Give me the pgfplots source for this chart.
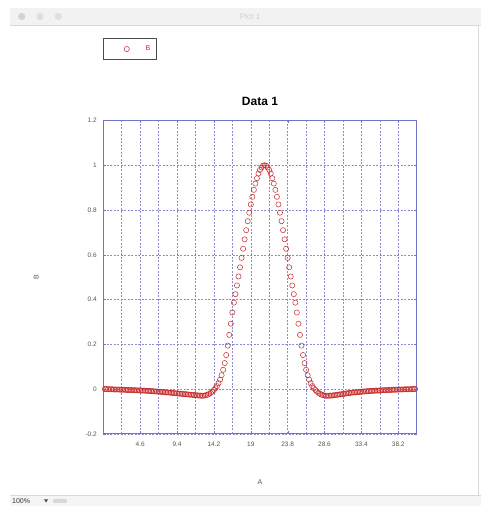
\documentclass[border=0pt]{standalone}
\usepackage{pgfplots}
\pgfplotsset{compat=1.18}
\usepackage{fontspec}
\setmainfont{Liberation Sans}
\definecolor{gridcol}{RGB}{140,140,210}
\definecolor{framecol}{RGB}{115,115,200}
\definecolor{markcol}{RGB}{200,40,40}
\definecolor{ticklab}{RGB}{85,85,85}
\begin{document}
\begin{tikzpicture}
% window frame (decoration)
\fill[white] (0pt,0pt) rectangle (481pt,506pt);
\fill[gray!10] (10pt,481pt) rectangle (481pt,498pt);
\draw[gray!30] (10pt,481pt) -- (481pt,481pt);
\fill[gray!35] (21.7pt,489.5pt) circle (3.6pt);
\fill[gray!25] (40pt,489.5pt) circle (3.6pt);
\fill[gray!25] (58.3pt,489.5pt) circle (3.6pt);
\node[text=gray!35,font=\fontsize{8}{9}\selectfont] at (250pt,489.5pt) {Plot 1};
\draw[gray!30] (478pt,11pt) -- (478pt,481pt);
\fill[gray!8] (10pt,0pt) rectangle (481pt,11pt);
\draw[gray!30] (10pt,11pt) -- (481pt,11pt);
\node[anchor=west,inner sep=0pt,text=black!80,font=\fontsize{7}{8}\selectfont] at (12pt,5pt) {100\%};
\fill[black!70] (44pt,6.5pt) -- (48pt,6.5pt) -- (46pt,3.5pt) -- cycle;
\fill[gray!30, rounded corners=1pt] (53pt,3pt) rectangle (67pt,7pt);
\pgfplotstableread{
x y
0.0 0.000
0.2 0.000
0.4 -0.001
0.6 -0.001
0.8 -0.001
1.0 -0.001
1.2 -0.002
1.4 -0.002
1.6 -0.002
1.8 -0.002
2.0 -0.003
2.2 -0.003
2.4 -0.003
2.6 -0.003
2.8 -0.004
3.0 -0.004
3.2 -0.004
3.4 -0.004
3.6 -0.005
3.8 -0.005
4.0 -0.005
4.2 -0.006
4.4 -0.006
4.6 -0.006
4.8 -0.007
5.0 -0.007
5.2 -0.007
5.4 -0.008
5.6 -0.008
5.8 -0.009
6.0 -0.009
6.2 -0.010
6.4 -0.010
6.6 -0.011
6.8 -0.011
7.0 -0.012
7.2 -0.012
7.4 -0.013
7.6 -0.013
7.8 -0.014
8.0 -0.015
8.2 -0.015
8.4 -0.016
8.6 -0.017
8.8 -0.017
9.0 -0.018
9.2 -0.019
9.4 -0.019
9.6 -0.020
9.8 -0.021
10.0 -0.021
10.2 -0.022
10.4 -0.023
10.6 -0.023
10.8 -0.024
11.0 -0.025
11.2 -0.025
11.4 -0.026
11.6 -0.027
11.8 -0.027
12.0 -0.028
12.2 -0.029
12.4 -0.029
12.6 -0.030
12.8 -0.030
13.0 -0.029
13.2 -0.027
13.4 -0.025
13.6 -0.021
13.8 -0.017
14.0 -0.011
14.2 -0.004
14.4 0.004
14.6 0.013
14.8 0.026
15.0 0.042
15.2 0.062
15.4 0.086
15.6 0.116
15.8 0.152
16.0 0.194
16.2 0.242
16.4 0.292
16.6 0.342
16.8 0.386
17.0 0.424
17.2 0.463
17.4 0.503
17.6 0.544
17.8 0.586
18.0 0.627
18.2 0.669
18.4 0.710
18.6 0.750
18.8 0.788
19.0 0.825
19.2 0.859
19.4 0.890
19.6 0.918
19.8 0.942
20.0 0.963
20.2 0.979
20.4 0.990
20.6 0.998
20.8 1.000
21.0 0.998
21.2 0.990
21.4 0.979
21.6 0.963
21.8 0.942
22.0 0.918
22.2 0.890
22.4 0.859
22.6 0.825
22.8 0.788
23.0 0.750
23.2 0.710
23.4 0.669
23.6 0.627
23.8 0.586
24.0 0.544
24.2 0.503
24.4 0.463
24.6 0.424
24.8 0.386
25.0 0.342
25.2 0.292
25.4 0.242
25.6 0.194
25.8 0.152
26.0 0.116
26.2 0.086
26.4 0.062
26.6 0.042
26.8 0.026
27.0 0.013
27.2 0.004
27.4 -0.004
27.6 -0.011
27.8 -0.017
28.0 -0.021
28.2 -0.025
28.4 -0.027
28.6 -0.029
28.8 -0.030
29.0 -0.030
29.2 -0.030
29.4 -0.029
29.6 -0.029
29.8 -0.028
30.0 -0.027
30.2 -0.026
30.4 -0.025
30.6 -0.024
30.8 -0.023
31.0 -0.022
31.2 -0.021
31.4 -0.020
31.6 -0.019
31.8 -0.018
32.0 -0.017
32.2 -0.016
32.4 -0.015
32.6 -0.015
32.8 -0.014
33.0 -0.013
33.2 -0.013
33.4 -0.012
33.6 -0.011
33.8 -0.011
34.0 -0.010
34.2 -0.010
34.4 -0.009
34.6 -0.009
34.8 -0.008
35.0 -0.008
35.2 -0.007
35.4 -0.007
35.6 -0.007
35.8 -0.006
36.0 -0.006
36.2 -0.005
36.4 -0.005
36.6 -0.005
36.8 -0.004
37.0 -0.004
37.2 -0.004
37.4 -0.003
37.6 -0.003
37.8 -0.003
38.0 -0.003
38.2 -0.002
38.4 -0.002
38.6 -0.002
38.8 -0.002
39.0 -0.001
39.2 -0.001
39.4 -0.001
39.6 -0.001
39.8 -0.001
40.0 0.000
40.2 0.000
40.4 0.000
}\datatable
\begin{axis}[
  at={(103.3pt,72.2pt)}, anchor=south west,
  scale only axis, width=313.4pt, height=313.3pt,
  xmin=-0.2, xmax=40.6, ymin=-0.2, ymax=1.2,
  xtick={4.6,9.4,14.2,19,23.8,28.6,33.4,38.2},
  minor xtick={-0.2,2.2,7.0,11.8,16.6,21.4,26.2,31.0,35.8,40.6},
  ytick={-0.2,0,0.2,0.4,0.6,0.8,1,1.2},
  grid=both,
  major grid style={gridcol, line width=0.5pt, dash pattern=on 2pt off 1.5pt},
  minor grid style={gridcol, line width=0.5pt, dash pattern=on 2pt off 1.5pt},
  axis line style={framecol, line width=0.9pt},
  tick style={framecol},
  major tick length=3pt, minor tick length=0pt,
  tick align=inside,
  /pgf/number format/assume math mode=true,
  ticklabel style={font=\fontsize{6.5}{7}\selectfont, text=ticklab},
  yticklabel style={xshift=-3pt},
  xticklabel style={yshift=-5pt},
  title={\textbf{Data 1}},
  title style={font=\fontsize{12}{14}\selectfont, yshift=5pt},
  xlabel={A}, ylabel={B},
  xlabel style={font=\fontsize{7}{8}\selectfont, text=ticklab, at={(0.5,-0.155)}, anchor=center},
  ylabel style={font=\fontsize{7}{8}\selectfont, text=ticklab, at={(-0.214,0.5)}, anchor=center, rotate=0},
  legend style={at={(0,1.262)}, anchor=north west, draw=black!70, line width=0.9pt,
    font=\fontsize{7}{8}\selectfont, text=markcol, inner xsep=4pt, inner ysep=5pt},
  clip=false,
]
\addplot[only marks, mark=o, mark size=2.6pt, markcol, mark options={line width=0.5pt},
  legend image code/.code={\path[draw=none,fill=none] (0pt,-3pt) rectangle (36pt,3pt); \draw[mark repeat=2,mark phase=2] plot coordinates {(0pt,0pt) (19pt,0pt) (36pt,0pt)};}]
  table[x=x,y=y] {\datatable};
\addlegendentry{B}
\end{axis}
\end{tikzpicture}
\end{document}
